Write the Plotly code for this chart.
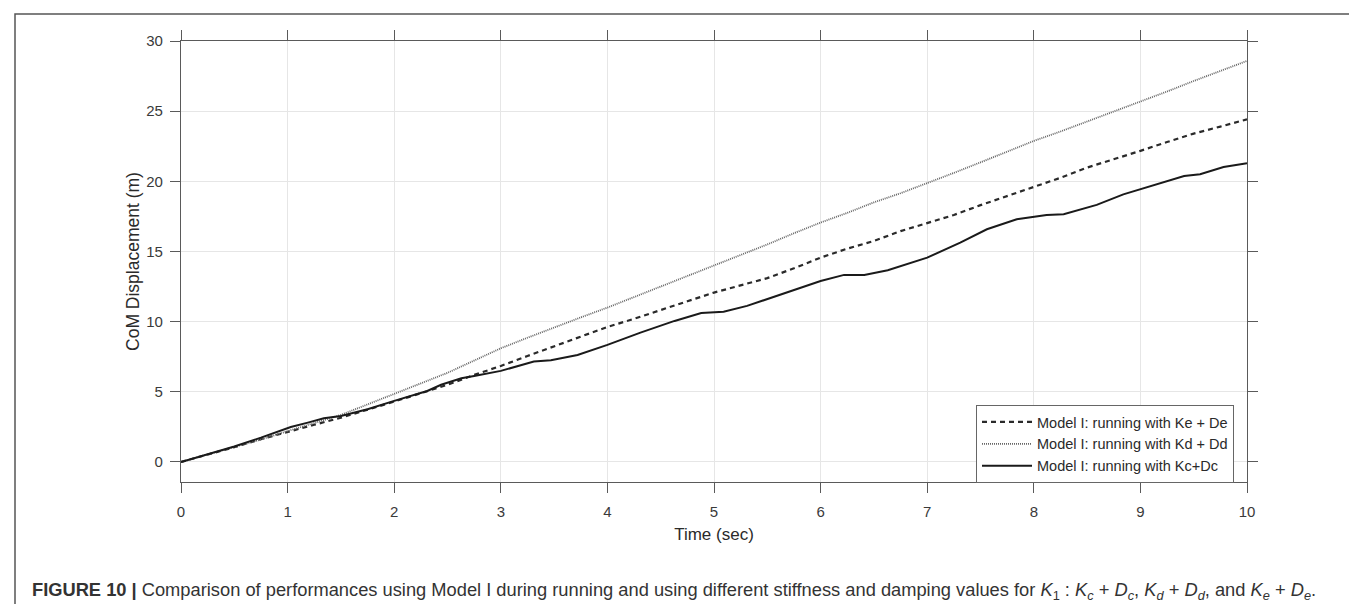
import plotly.graph_objects as go

# ---- data ----
time_s = [0, 0.25, 0.5, 0.75, 1.0, 1.25, 1.5, 1.75, 2.0, 2.25, 2.5, 2.75, 3.0, 3.25, 3.5, 3.75,
          4.0, 4.25, 4.5, 4.75, 5.0, 5.25, 5.5, 5.75, 6.0, 6.25, 6.5, 6.75, 7.0, 7.25, 7.5, 7.75,
          8.0, 8.25, 8.5, 8.75, 9.0, 9.25, 9.5, 9.75, 10.0]

ke_de = [0, 0.52, 1.05, 1.62, 2.15, 2.65, 3.15, 3.7, 4.3, 4.9, 5.5, 6.2, 6.84, 7.55, 8.25, 8.95,
         9.62, 10.2, 10.8, 11.45, 12.07, 12.6, 13.1, 13.8, 14.56, 15.2, 15.75, 16.45, 17.05, 17.6, 18.3, 18.95,
         19.55, 20.25, 20.98, 21.55, 22.17, 22.8, 23.4, 23.9, 24.42]

kd_dd = [0, 0.52, 1.05, 1.6, 2.2, 2.75, 3.35, 4.1, 4.87, 5.6, 6.35, 7.2, 8.1, 8.85, 9.6, 10.3,
         11.0, 11.75, 12.5, 13.25, 13.97, 14.75, 15.5, 16.3, 17.06, 17.75, 18.5, 19.15, 19.86, 20.6, 21.35, 22.1,
         22.88, 23.55, 24.25, 24.95, 25.66, 26.4, 27.15, 27.85, 28.58]

time_c = [0, 0.25, 0.5, 0.75, 0.94, 1.03, 1.19, 1.34, 1.5, 1.75, 2.0, 2.31, 2.44, 2.63, 2.75, 3.0,
          3.31, 3.47, 3.72, 4.0, 4.31, 4.63, 4.88, 5.0, 5.09, 5.31, 5.56, 6.0, 6.22, 6.41, 6.63, 6.81,
          7.0, 7.31, 7.56, 7.84, 8.12, 8.28, 8.59, 8.84, 9.0, 9.16, 9.41, 9.56, 9.78, 10.0]
kc_dc = [0, 0.54, 1.1, 1.73, 2.21, 2.49, 2.8, 3.11, 3.28, 3.75, 4.35, 5.06, 5.5, 5.96, 6.13, 6.49,
         7.15, 7.24, 7.62, 8.34, 9.22, 10.05, 10.62, 10.69, 10.71, 11.12, 11.76, 12.9, 13.33, 13.33, 13.66, 14.1,
         14.56, 15.63, 16.58, 17.29, 17.6, 17.65, 18.32, 19.07, 19.43, 19.84, 20.38, 20.5, 21.02, 21.28]

legend_names = ["Model I: running with Ke + De",
                "Model I: running with Kd + Dd",
                "Model I: running with Kc+Dc"]

x_ticks = list(range(0, 11))
y_ticks = [0, 5, 10, 15, 20, 25, 30]

FONT = "Liberation Sans, Arial, Helvetica, sans-serif"

fig = go.Figure()
fig.add_trace(go.Scatter(x=time_s, y=ke_de, mode="lines", name=legend_names[0],
                         line=dict(color="#2a2a2a", width=2.2, dash="5px,4px")))
fig.add_trace(go.Scatter(x=time_s, y=kd_dd, mode="lines", name=legend_names[1],
                         line=dict(color="#666666", width=1.8, dash="1px,1px")))
fig.add_trace(go.Scatter(x=time_c, y=kc_dc, mode="lines", name=legend_names[2],
                         line=dict(color="#1a1a1a", width=2)))

axis_common = dict(
    showline=True, linecolor="#5a5a5a", linewidth=1.3, mirror="ticks",
    ticks="outside", ticklen=10, tickwidth=1.2, tickcolor="#5a5a5a",
    showgrid=True, gridcolor="#e6e6e6", gridwidth=1, zeroline=False,
    tickfont=dict(family=FONT, size=15, color="#3a3a3a"),
)

fig.update_xaxes(range=[0, 10], tickvals=x_ticks,
                 title=dict(text="Time (sec)", font=dict(family=FONT, size=17, color="#2a2a2a"), standoff=8),
                 ticklabelstandoff=6, **axis_common)
fig.update_yaxes(range=[-1.43, 30.0], tickvals=y_ticks,
                 title=dict(text="CoM Displacement (m)", font=dict(family=FONT, size=17.5, color="#2a2a2a"), standoff=2),
                 ticklabelstandoff=4, **axis_common)

caption = ("<b>FIGURE 10 |</b> Comparison of performances using Model I during running and using different "
           "stiffness and damping values for <i>K</i><sub>1</sub> : <i>K<sub>c</sub></i> + <i>D<sub>c</sub></i>, "
           "<i>K<sub>d</sub></i> + <i>D<sub>d</sub></i>, and <i>K<sub>e</sub></i> + <i>D<sub>e</sub></i>.")

L, R, T, B = 173, 118, 33, 130
W, H = 1357, 604
pw, ph = W - L - R, H - T - B

def px(xp):
    return (xp - L) / pw

def py(yp):
    return (H - B - yp) / ph

fig.update_layout(
    width=W, height=H,
    margin=dict(l=L, r=R, t=T, b=B, autoexpand=False),
    paper_bgcolor="white", plot_bgcolor="white",
    font=dict(family=FONT, color="#2a2a2a"),
    showlegend=True,
    legend=dict(x=px(968), y=py(397), xanchor="left", yanchor="top",
                bgcolor="white", bordercolor="#666666", borderwidth=1,
                font=dict(family=FONT, size=14.5, color="#2a2a2a"),
                itemwidth=50, tracegroupgap=0),
    shapes=[dict(type="rect", xref="paper", yref="paper",
                 x0=px(7), x1=px(1355), y0=py(612), y1=py(6),
                 line=dict(color="#555555", width=1.5), fillcolor="rgba(0,0,0,0)", layer="below")],
    annotations=[dict(text=caption, xref="paper", yref="paper", x=px(22), y=py(583),
                      xanchor="left", yanchor="middle", showarrow=False,
                      font=dict(family="Liberation Sans Narrow, Arial Narrow, Liberation Sans, sans-serif",
                                size=18.3, color="#333333"))],
)

fig.write_html("out.html")
